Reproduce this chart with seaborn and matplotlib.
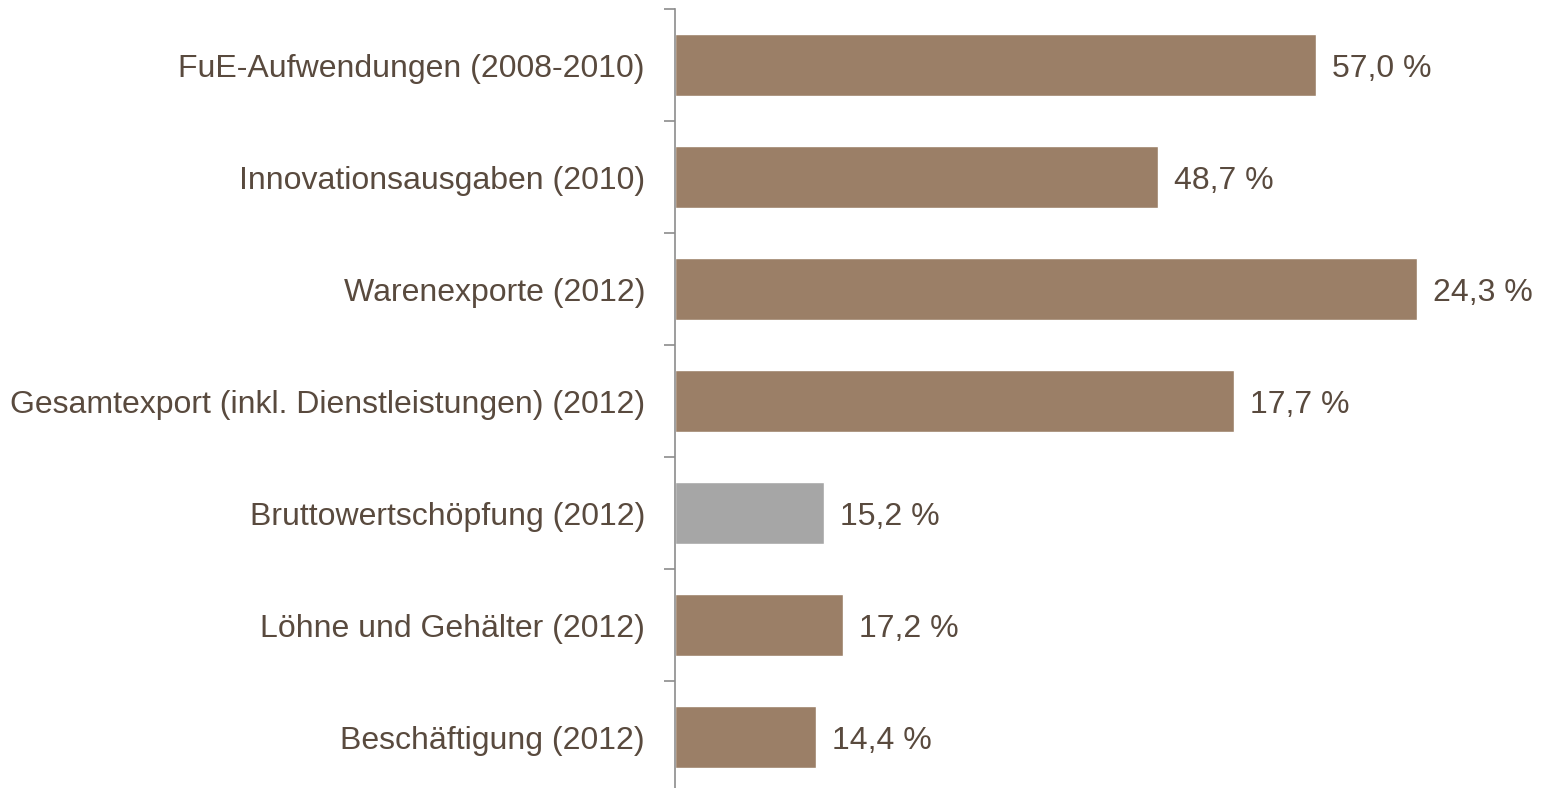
import seaborn as sns
import pandas as pd
import matplotlib.pyplot as plt

categories = ['FuE-Aufwendungen (2008-2010)', 'Innovationsausgaben (2010)', 'Warenexporte (2012)',
              'Gesamtexport (inkl. Dienstleistungen) (2012)', 'Bruttowertschöpfung (2012)',
              'Löhne und Gehälter (2012)', 'Beschäftigung (2012)']
# bar length as drawn in the original (relative, longest = 100)
bar_length = [86.4, 65.1, 100.0, 75.3, 20.1, 22.6, 19.0]
# value shown next to each bar
shown_value = [57.0, 48.7, 24.3, 17.7, 15.2, 17.2, 14.4]

brown = '#9b7f67'
grey = '#a6a6a6'
text_col = '#594a3e'
colors = [brown, brown, brown, brown, grey, brown, brown]

df = pd.DataFrame({'Kategorie': categories, 'Laenge': bar_length, 'Wert': shown_value})

sns.set_style('white')
plt.rcParams['font.family'] = ['Liberation Sans', 'DejaVu Sans']

fig = plt.figure(figsize=(15.43, 7.88), dpi=100)
ax = fig.add_axes([675 / 1543, -5 / 788, 868 / 1543, 784 / 788])

sns.barplot(data=df, x='Laenge', y='Kategorie', hue='Kategorie', palette=colors,
            width=0.56, saturation=1, legend=False, ax=ax, orient='h')

for i, (l, v) in enumerate(zip(bar_length, shown_value)):
    ax.text(l + 2.2, i, f'{v:.1f} %'.replace('.', ','), va='center_baseline', ha='left',
            fontsize=23, color=text_col)

ax.set_xlim(0, 117.0)
ax.set_ylim(6.5, -0.5)
ax.set_xlabel('')
ax.set_ylabel('')
ax.set_xticks([])
ax.set_yticks([i - 0.5 for i in range(8)], minor=False)
ax.set_yticklabels([])
ax.set_yticks(range(7), minor=True)
ax.set_yticklabels(categories, minor=True, fontsize=23, color=text_col, va='center_baseline')
ax.tick_params(axis='y', which='major', length=8, width=1.2, color='#8c8c8c', left=True)
ax.tick_params(axis='y', which='minor', length=0, pad=21.6)

for s in ['top', 'right', 'bottom']:
    ax.spines[s].set_visible(False)
ax.spines['left'].set_color('#8c8c8c')
ax.spines['left'].set_linewidth(1.2)

fig.savefig('out.png', dpi=100)
